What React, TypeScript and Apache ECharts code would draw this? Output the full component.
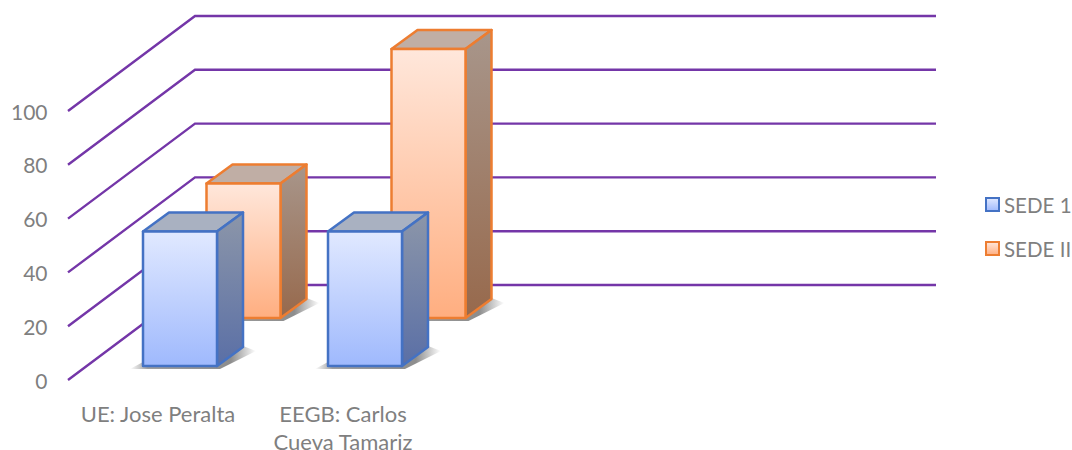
import React, { useEffect, useRef } from "react";
import * as echarts from "echarts";

const categories = ["UE: Jose Peralta", "EEGB: Carlos\nCueva Tamariz"];
const sede1Values = [50, 50];
const sede2Values = [50, 100];
const gridValues = [0, 20, 40, 60, 80, 100];

const FONT = "Lato, 'Open Sans', sans-serif";
const TEXT = "#7f7f7f";
const DEPTH_X = 26;
const DEPTH_Y = 19;
const BAR_W = 74;
const WALL_X = 127;
const WALL_Y = 95;
const WALL_END = 936;
const WALL_START = 68;

const grad = (a: string, b: string) =>
  new echarts.graphic.LinearGradient(0, 0, 0, 1, [
    { offset: 0, color: a },
    { offset: 1, color: b },
  ]);

const shadowFill = () =>
  new echarts.graphic.LinearGradient(0, 0, 1, 0, [
    { offset: 0, color: "rgba(80,80,80,0)" },
    { offset: 0.14, color: "rgba(80,80,80,0.55)" },
    { offset: 0.8, color: "rgba(80,80,80,0.65)" },
    { offset: 1, color: "rgba(80,80,80,0)" },
  ]);

type Look = {
  stroke: string;
  frontA: string;
  frontB: string;
  sideA: string;
  sideB: string;
  top: string;
};

const blue: Look = {
  stroke: "#4472c4",
  frontA: "#e1e9ff",
  frontB: "#9fb9fd",
  sideA: "#8c96a9",
  sideB: "#5a6fa6",
  top: "#a9b1c1",
};
const orange: Look = {
  stroke: "#ed7d31",
  frontA: "#ffe7db",
  frontB: "#ffae80",
  sideA: "#a8968b",
  sideB: "#97694c",
  top: "#c0aea5",
};

const poly = (points: number[][], style: any, silent = true) => ({
  type: "polygon",
  shape: { points },
  style,
  silent,
});

const barRenderer = (look: Look, dx: number, floorUp: number) => (_p: any, api: any) => {
  const idx = api.value(0);
  const top = api.coord([idx, api.value(1)]);
  const base = api.coord([idx, 0]);
  const x0 = base[0] + dx - BAR_W / 2;
  const x1 = x0 + BAR_W;
  const y1 = base[1] - floorUp;
  const y0 = top[1] - floorUp;
  const edge = { stroke: look.stroke, lineWidth: 2.5, lineJoin: "round" };
  return {
    type: "group",
    children: [
      poly(
        [
          [x0 - 13, y1 + 3],
          [x1 + 3, y1 + 3],
          [x1 + DEPTH_X + 13, y1 - DEPTH_Y + 4],
          [x1 + DEPTH_X, y1 - DEPTH_Y - 1],
          [x0, y1 - 4],
        ],
        { fill: shadowFill() }
      ),
      poly(
        [
          [x0, y0],
          [x0 + DEPTH_X, y0 - DEPTH_Y],
          [x1 + DEPTH_X, y0 - DEPTH_Y],
          [x1, y0],
        ],
        { fill: look.top, ...edge }
      ),
      poly(
        [
          [x1, y0],
          [x1 + DEPTH_X, y0 - DEPTH_Y],
          [x1 + DEPTH_X, y1 - DEPTH_Y],
          [x1, y1],
        ],
        { fill: grad(look.sideA, look.sideB), ...edge }
      ),
      poly(
        [
          [x0, y0],
          [x1, y0],
          [x1, y1],
          [x0, y1],
        ],
        { fill: grad(look.frontA, look.frontB), ...edge }
      ),
    ],
  };
};

const wallRenderer = (_p: any, api: any) => {
  const y = api.coord([0, api.value(1)])[1];
  return {
    type: "polyline",
    shape: {
      points: [
        [WALL_START, y],
        [WALL_START + WALL_X, y - WALL_Y],
        [WALL_END, y - WALL_Y],
      ],
    },
    style: { stroke: "#7436a8", lineWidth: 2.4, fill: "none" },
    silent: true,
  };
};

export default function App() {
  const ref = useRef<HTMLDivElement>(null);
  useEffect(() => {
    const chart = echarts.init(ref.current!, undefined, { renderer: "svg" });
    chart.setOption({
      animation: false,
      backgroundColor: "#ffffff",
      grid: { left: 65.5, width: 370, top: 111, height: 269, outerBoundsMode: "none", containLabel: false },
      legend: {
        orient: "vertical",
        left: 985,
        top: 194,
        padding: 0,
        itemWidth: 13,
        itemHeight: 13,
        itemGap: 23,
        icon: "rect",
        data: ["SEDE 1", "SEDE II"],
        textStyle: { color: TEXT, fontSize: 20.5, fontFamily: FONT, padding: [0, 0, 0, 0] },
      },
      xAxis: {
        type: "category",
        data: categories,
        axisLine: { show: false },
        axisTick: { show: false },
        splitLine: { show: false },
        axisLabel: {
          margin: 14,
          interval: 0,
          formatter: (value: string) =>
            value
              .split("\n")
              .map((line, i) => `{${i ? "b" : "a"}|${line}}`)
              .join("\n"),
          rich: {
            a: { color: TEXT, fontSize: 22, fontFamily: FONT, lineHeight: 38 },
            b: { color: TEXT, fontSize: 22, fontFamily: FONT, lineHeight: 18 },
          },
        },
      },
      yAxis: {
        type: "value",
        min: 0,
        max: 100,
        interval: 20,
        axisLine: { show: false },
        axisTick: { show: false },
        splitLine: { show: false },
        axisLabel: { color: TEXT, fontSize: 21, fontFamily: FONT, margin: 18 },
      },
      series: [
        {
          type: "custom",
          name: "walls",
          z: 1,
          renderItem: wallRenderer,
          data: gridValues.map((v) => [0, v]),
          encode: { x: 0, y: 1 },
        },
        {
          type: "custom",
          name: "SEDE II",
          z: 2,
          renderItem: barRenderer(orange, 85.5, 62),
          itemStyle: {
            color: grad(orange.frontA, orange.frontB),
            borderColor: orange.stroke,
            borderWidth: 2,
          },
          data: sede2Values.map((v, i) => [i, v]),
          encode: { x: 0, y: 1 },
        },
        {
          type: "custom",
          name: "SEDE 1",
          z: 3,
          renderItem: barRenderer(blue, 22, 14),
          itemStyle: {
            color: grad(blue.frontA, blue.frontB),
            borderColor: blue.stroke,
            borderWidth: 2,
          },
          data: sede1Values.map((v, i) => [i, v]),
          encode: { x: 0, y: 1 },
        },
      ],
    });
    return () => chart.dispose();
  }, []);
  return <div ref={ref} style={{ position: "absolute", left: 0, top: 0, width: 1072, height: 450 }} />;
}
